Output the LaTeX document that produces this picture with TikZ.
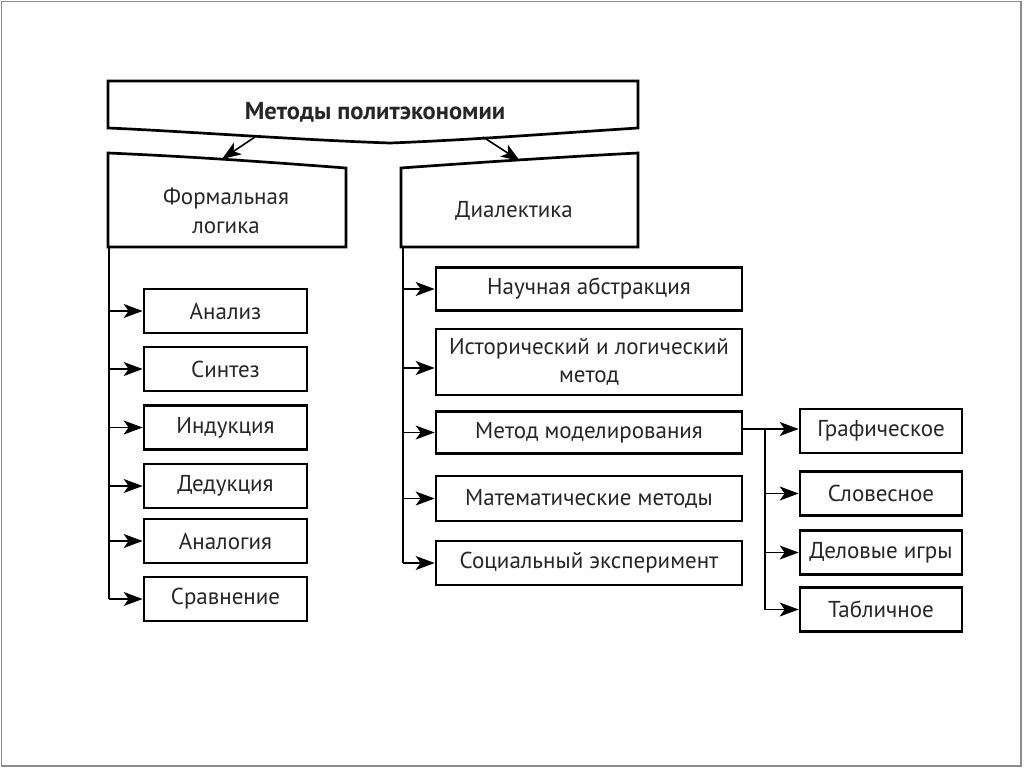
\documentclass[tikz,border=0pt]{standalone}
\usepackage{fontspec}
\setmainfont{PT Sans}
\usetikzlibrary{arrows.meta}
\begin{document}
\begin{tikzpicture}[x=1pt,y=-1pt,
  box/.style={draw=black,line width=2.7pt,rectangle,inner sep=0pt,align=center,
    font=\fontsize{23}{28}\selectfont,text=black!85},
  lbox/.style={box,minimum width=163pt,minimum height=44pt},
  rbox/.style={box,minimum width=306pt,minimum height=43pt},
  sbox/.style={box,minimum width=162pt,minimum height=44pt},
  shapeline/.style={draw=black,line width=2.7pt,line join=miter},
  conn/.style={draw=black,line width=1.6pt},
  arr/.style={conn,-{Stealth[length=19pt,width=14pt,inset=5pt]}},
  lbl/.style={inner sep=0pt,align=center,font=\fontsize{23}{29}\selectfont,text=black!85}]
\useasboundingbox (0,0) rectangle (1024,768);
\fill[white] (0,0) rectangle (1024,768);
\draw[black!45,line width=1.6pt] (1.5,1.5) rectangle (1021,766);

% top banner
\draw[shapeline] (108,81) -- (638,81) -- (638,128)
  .. controls (560,133) and (470,140) .. (390,143)
  .. controls (300,140) and (180,131) .. (108,128) -- cycle;
\node[lbl,font=\bfseries\fontsize{24.5}{28}\selectfont] (top) at (375,112) {Методы политэкономии};
\coordinate (topL) at (255,137);
\coordinate (topR) at (483,137);

% formal logic
\draw[shapeline] (108,153) .. controls (200,157) and (280,163) .. (346,168) -- (346,247) -- (108,247) -- cycle;
\node[lbl] (fl) at (226,211) {Формальная\\логика};
\coordinate (flT) at (222,159);
\coordinate (flB) at (109,247);

% dialectic
\draw[shapeline] (401,168) .. controls (470,163) and (560,157) .. (638,153) -- (638,247) -- (401,247) -- cycle;
\node[lbl] (dl) at (514,211) {Диалектика};
\coordinate (dlT) at (520,161);
\coordinate (dlB) at (403,247);

\draw[arr] (topL) -- (flT);
\draw[arr] (topR) -- (dlT);

% left column
\node[lbox] (a1) at (225.5,311) {Анализ};
\node[lbox] (a2) at (225.5,369) {Синтез};
\node[lbox] (a3) at (225.5,427.5) {Индукция};
\node[lbox] (a4) at (225.5,486) {Дедукция};
\node[lbox] (a5) at (225.5,541) {Аналогия};
\node[lbox] (a6) at (225.5,599) {Сравнение};
\draw[conn] (flB) -- (flB |- a6.west);
\foreach \n in {a1,a2,a3,a4,a5,a6} \draw[arr] (flB |- \n.west) -- (\n.west);

% right column
\node[rbox] (b1) at (589,289) {Научная абстракция};
\node[rbox,minimum height=66pt] (b2) at (589,362) {Исторический и логический\\метод};
\node[rbox,minimum height=42pt] (b3) at (589,432.5) {Метод моделирования};
\node[rbox,minimum height=45pt] (b4) at (589,498.5) {Математические методы};
\node[rbox,minimum height=44pt] (b5) at (589,563) {Социальный эксперимент};
\draw[conn] (dlB) -- (dlB |- b5.west);
\draw[arr] (dlB |- b1.west) -- (b1.west);
\draw[arr] (dlB |- 0,368) -- (b2.west |- 0,368);
\foreach \n in {b3,b4,b5} \draw[arr] (dlB |- \n.west) -- (\n.west);

% modelling sub-branch
\node[sbox] (c1) at (881,431) {Графическое};
\node[sbox] (c2) at (881,493.5) {Словесное};
\node[sbox] (c3) at (881,552.5) {Деловые игры};
\node[sbox] (c4) at (881,609.5) {Табличное};
\coordinate (cT) at (765,429);
\draw[conn] (b3.east |- cT) -- (cT);
\draw[arr] (cT) -- (c1.west |- cT);
\draw[conn] (cT) -- (cT |- c4.west);
\foreach \n in {c2,c3,c4} \draw[arr] (cT |- \n.west) -- (\n.west);
\end{tikzpicture}
\end{document}
